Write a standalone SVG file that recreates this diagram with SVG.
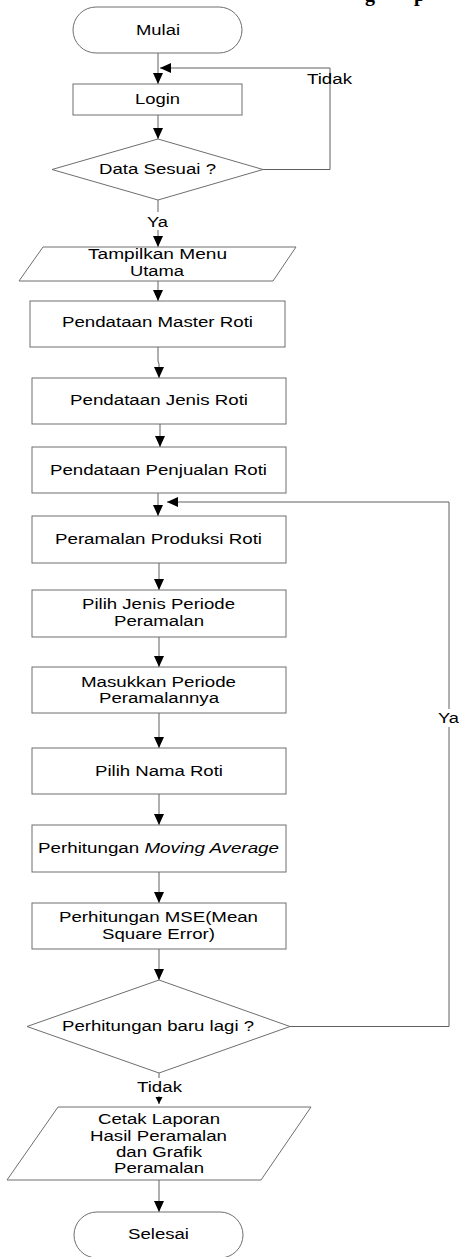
<svg xmlns="http://www.w3.org/2000/svg" width="459" height="1257" viewBox="0 0 459 1257">
<style>
.s{fill:#fff;stroke:#6e6e6e;stroke-width:1}
.c{fill:none;stroke:#606060;stroke-width:1}
.t{font-family:"Liberation Sans",Arial,sans-serif;font-size:14px;fill:#000;text-anchor:middle}
.l{text-anchor:start}
.h{font-family:"Liberation Serif","Times New Roman",serif;font-size:20px;font-weight:bold;fill:#000}
</style>
<defs>
<marker id="a" markerUnits="userSpaceOnUse" markerWidth="12" markerHeight="10" viewBox="0 0 12 10" refX="11" refY="5" orient="auto"><path d="M0,0 L11,5 L0,10 z" fill="#000"/></marker>
<marker id="b" markerUnits="userSpaceOnUse" markerWidth="8" markerHeight="8" viewBox="0 0 8 8" refX="7" refY="4" orient="auto"><path d="M0,0.5 L7,4 L0,7.5 z" fill="#000"/></marker>
</defs>
<text class="h" x="365" y="1">g</text>
<text class="h" x="414" y="1">p</text>
<g id="connectors">
<path class="c" d="M158,53 V84" marker-end="url(#a)"/>
<path class="c" d="M158,115 V139" marker-end="url(#a)"/>
<path class="c" d="M263,169.5 H330 V68 H160" marker-end="url(#a)"/>
<path class="c" d="M158,200 V212"/>
<path class="c" d="M158,230 V247" marker-end="url(#a)"/>
<path class="c" d="M158,281 V301" marker-end="url(#a)"/>
<path class="c" d="M158,347 V361 L159,364 V378" marker-end="url(#a)"/>
<path class="c" d="M160,424 V447" marker-end="url(#a)"/>
<path class="c" d="M158,493 V516" marker-end="url(#a)"/>
<path class="c" d="M290,1026.5 H449 V727"/>
<path class="c" d="M449,709 V502 H167" marker-end="url(#a)"/>
<path class="c" d="M159,563 V590" marker-end="url(#a)"/>
<path class="c" d="M159,637 V667" marker-end="url(#a)"/>
<path class="c" d="M159,713 V748" marker-end="url(#a)"/>
<path class="c" d="M159,794 V825" marker-end="url(#a)"/>
<path class="c" d="M159,872 V903" marker-end="url(#a)"/>
<path class="c" d="M159,949 V980" marker-end="url(#a)"/>
<path class="c" d="M159,1073 V1078"/>
<path class="c" d="M159,1096 V1104" marker-end="url(#b)"/>
<path class="c" d="M159,1180 V1212" marker-end="url(#a)"/>
<text class="t" x="329.5" y="84" textLength="45" lengthAdjust="spacingAndGlyphs">Tidak</text>
<text class="t" x="157.5" y="227" textLength="21" lengthAdjust="spacingAndGlyphs">Ya</text>
<text class="t l" x="438" y="723" textLength="21" lengthAdjust="spacingAndGlyphs">Ya</text>
<text class="t" x="159.5" y="1092" textLength="45" lengthAdjust="spacingAndGlyphs">Tidak</text>
</g>
<g id="mulai">
<rect class="s" x="73" y="7" width="169" height="46" rx="23"/>
<text class="t" x="158" y="35" textLength="44" lengthAdjust="spacingAndGlyphs">Mulai</text>
</g>
<g id="login">
<rect class="s" x="73" y="84" width="169" height="31"/>
<text class="t" x="157.5" y="104" textLength="45" lengthAdjust="spacingAndGlyphs">Login</text>
</g>
<g id="data-sesuai">
<polygon class="s" points="158,139 263,169.5 158,200 52,169.5"/>
<text class="t" x="157.5" y="174" textLength="117" lengthAdjust="spacingAndGlyphs">Data Sesuai ?</text>
</g>
<g id="menu-utama">
<polygon class="s" points="43,247 296,247 273,281 19,281"/>
<text class="t" x="157.5" y="259" textLength="139" lengthAdjust="spacingAndGlyphs">Tampilkan Menu</text>
<text class="t" x="157" y="276" textLength="54" lengthAdjust="spacingAndGlyphs">Utama</text>
</g>
<g id="master-roti">
<rect class="s" x="30" y="301" width="255" height="46"/>
<text class="t" x="157.5" y="327" textLength="191" lengthAdjust="spacingAndGlyphs">Pendataan Master Roti</text>
</g>
<g id="jenis-roti">
<rect class="s" x="32" y="378" width="254" height="46"/>
<text class="t" x="159" y="405" textLength="178" lengthAdjust="spacingAndGlyphs">Pendataan Jenis Roti</text>
</g>
<g id="penjualan-roti">
<rect class="s" x="32" y="447" width="254" height="46"/>
<text class="t" x="158.5" y="475" textLength="217" lengthAdjust="spacingAndGlyphs">Pendataan Penjualan Roti</text>
</g>
<g id="peramalan-produksi">
<rect class="s" x="32" y="516" width="254" height="47"/>
<text class="t" x="158.5" y="544" textLength="207" lengthAdjust="spacingAndGlyphs">Peramalan Produksi Roti</text>
</g>
<g id="pilih-periode">
<rect class="s" x="32" y="590" width="254" height="47"/>
<text class="t" x="158.5" y="609" textLength="153" lengthAdjust="spacingAndGlyphs">Pilih Jenis Periode</text>
<text class="t" x="159" y="626" textLength="90" lengthAdjust="spacingAndGlyphs">Peramalan</text>
</g>
<g id="masukkan-periode">
<rect class="s" x="32" y="667" width="254" height="46"/>
<text class="t" x="158.5" y="686.5" textLength="155" lengthAdjust="spacingAndGlyphs">Masukkan Periode</text>
<text class="t" x="159" y="703" textLength="120" lengthAdjust="spacingAndGlyphs">Peramalannya</text>
</g>
<g id="pilih-nama">
<rect class="s" x="32" y="748" width="254" height="46"/>
<text class="t" x="159" y="775.5" textLength="128" lengthAdjust="spacingAndGlyphs">Pilih Nama Roti</text>
</g>
<g id="moving-average">
<rect class="s" x="32" y="825" width="254" height="47"/>
<text class="t l" x="38" y="853" textLength="241" lengthAdjust="spacingAndGlyphs">Perhitungan <tspan font-style="italic">Moving Average</tspan></text>
</g>
<g id="mse">
<rect class="s" x="32" y="903" width="254" height="46"/>
<text class="t" x="158.5" y="922" textLength="199" lengthAdjust="spacingAndGlyphs">Perhitungan MSE(Mean</text>
<text class="t" x="158.5" y="939" textLength="113" lengthAdjust="spacingAndGlyphs">Square Error)</text>
</g>
<g id="baru-lagi">
<polygon class="s" points="159,980 290,1026.5 159,1073 27,1026.5"/>
<text class="t" x="158" y="1031" textLength="192" lengthAdjust="spacingAndGlyphs">Perhitungan baru lagi ?</text>
</g>
<g id="cetak-laporan">
<polygon class="s" points="58,1107 311,1107 261,1180 7,1180"/>
<text class="t" x="159" y="1124" textLength="122" lengthAdjust="spacingAndGlyphs">Cetak Laporan</text>
<text class="t" x="158.5" y="1140.5" textLength="137" lengthAdjust="spacingAndGlyphs">Hasil Peramalan</text>
<text class="t" x="159" y="1157" textLength="86" lengthAdjust="spacingAndGlyphs">dan Grafik</text>
<text class="t" x="159" y="1173" textLength="90" lengthAdjust="spacingAndGlyphs">Peramalan</text>
</g>
<g id="selesai">
<rect class="s" x="74" y="1212" width="169" height="46" rx="23"/>
<text class="t" x="158.5" y="1239" textLength="61" lengthAdjust="spacingAndGlyphs">Selesai</text>
</g>
</svg>
